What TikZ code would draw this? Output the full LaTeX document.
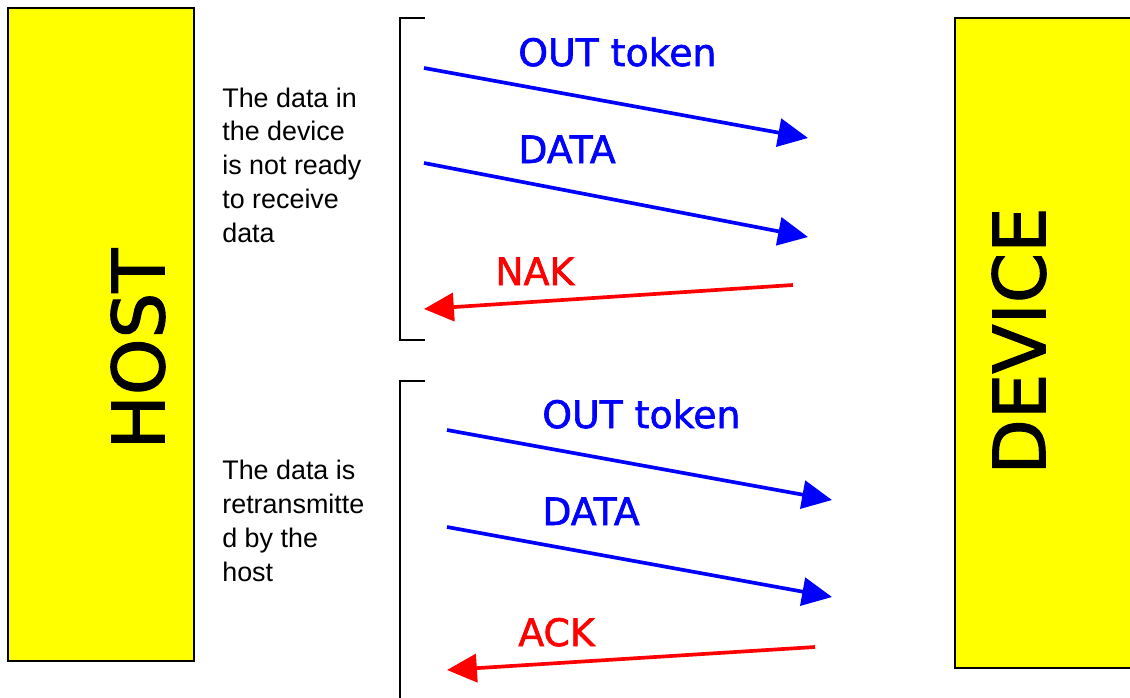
\documentclass[tikz,border=0pt]{standalone}
\usepackage{fontspec}
\setmainfont{Liberation Sans}
\newfontfamily\handfont[BoldFont={DejaVu Sans}, BoldFeatures={FakeBold=1.6}]{DejaVu Sans}
\usetikzlibrary{positioning,arrows.meta}
\definecolor{SideYellow}{RGB}{255,255,0}
\definecolor{MsgBlue}{RGB}{0,0,255}
\definecolor{MsgRed}{RGB}{255,0,0}
\tikzset{
  side/.style={rectangle, draw=black, fill=SideYellow, line width=1.2pt, inner sep=0pt},
  sidename/.style={rotate=90, inner sep=0pt, font=\handfont\bfseries\fontsize{41}{41}\selectfont},
  note/.style={anchor=base west, align=left, inner sep=0pt,
    font=\fontsize{15.3}{19.2}\selectfont},
  msg/.style={anchor=base west, inner sep=0pt, font=\handfont\bfseries\fontsize{21.5}{21.5}\selectfont},
  fwd/.style={-{Triangle[length=17pt,width=16pt]}, line width=2.1pt, draw=MsgBlue},
  back/.style={-{Triangle[length=17pt,width=16pt]}, line width=2.1pt, draw=MsgRed},
  brk/.style={line width=1.1pt, draw=black}
}

\begin{document}
\begin{tikzpicture}[x=0.02cm, y=-0.02cm]
  \useasboundingbox (0,0) rectangle (1130,697);

  % host and device
  \node[side, minimum width=3.72cm, minimum height=13.06cm] (host) at (101,334.5) {};
  \node[side, minimum width=4.1cm, minimum height=13cm] (device) at (1057.5,343) {};
  \node[sidename] (hostname) at (138,349) {HOST};
  \node[sidename] (devicename) at (1019,341) {DEVICE};

  % brackets
  \draw[brk] (425,18) -- (400,18) -- (400,340) -- (425,340);
  \draw[brk] (425,381) -- (400,381) -- (400,710);

  % notes (anchored at the last line)
  \node[note] (notready) at (222,242) {The data in\\the device\\is not ready\\to receive\\data};
  \node[note] (resend) at (222,581) {The data is\\retransmitte\\d by the\\host};

  % first try
  \coordinate (out1s) at (424,68);  \coordinate (out1e) at (808,138);
  \coordinate (dat1s) at (424,163); \coordinate (dat1e) at (808,237);
  \coordinate (nak1s) at (793,285); \coordinate (nak1e) at (424,309);
  \draw[fwd] (out1s) -- (out1e);
  \draw[fwd] (dat1s) -- (dat1e);
  \draw[back] (nak1s) -- (nak1e);
  \node[msg, text=MsgBlue] (out1) at (518,66) {OUT token};
  \node[msg, text=MsgBlue] (dat1) at (518,163) {DATA};
  \node[msg, text=MsgRed] (nak) at (495,285) {NAK};

  % retry
  \coordinate (out2s) at (447,430); \coordinate (out2e) at (832,500);
  \coordinate (dat2s) at (447,527); \coordinate (dat2e) at (832,597);
  \coordinate (ack2s) at (815,647); \coordinate (ack2e) at (447,670);
  \draw[fwd] (out2s) -- (out2e);
  \draw[fwd] (dat2s) -- (dat2e);
  \draw[back] (ack2s) -- (ack2e);
  \node[msg, text=MsgBlue] (out2) at (542,428) {OUT token};
  \node[msg, text=MsgBlue] (dat2) at (542,525) {DATA};
  \node[msg, text=MsgRed] (ack) at (518,646) {ACK};
\end{tikzpicture}
\end{document}
